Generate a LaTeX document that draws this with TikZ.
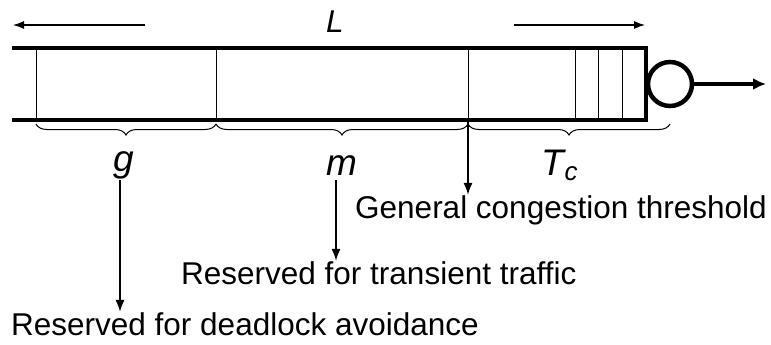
\documentclass[tikz,border=0pt]{standalone}
\usepackage{fontspec}
\setmainfont{Liberation Sans}
\usetikzlibrary{arrows.meta,decorations.pathreplacing,positioning}

\begin{document}
\begin{tikzpicture}[x=1pt, y=-1pt, >={Latex[length=12pt,width=9pt]},
                    wall/.style={line width=4.5pt},
                    slot/.style={line width=0.8pt},
                    txt/.style={font=\fontsize{31.5}{32}\selectfont, inner sep=0pt},
                    sym/.style={font=\fontsize{37}{38}\selectfont\itshape, inner sep=0pt, anchor=base},
                    brc/.style={decorate, decoration={brace, mirror, amplitude=11pt}, line width=1pt},
                    ptr/.style={->, line width=1.8pt}]
\useasboundingbox (0,0) rectangle (771,345);

% buffer
\draw[wall] (12,48) -- (646,48) -- (646,120) -- (12,120);
\foreach \x in {36,216,468,575,598,622}
  \draw[slot] (\x,48) -- (\x,120);

% server and output
\node[circle, draw, line width=4.5pt, minimum size=44pt, inner sep=0pt] (srv) at (670,84) {};
\coordinate (out) at (766,84);
\draw[->, line width=3.5pt, >={Latex[length=13pt,width=12pt]}] (srv.east) -- (out);

% length L
\node[txt, font=\fontsize{31.5}{32}\selectfont\itshape] (lblL) at (335,22) {L};
\coordinate (lft) at (13,25);
\coordinate (lfs) at (145,25);
\coordinate (rgs) at (514,25);
\coordinate (rgt) at (645,25);
\draw[->, line width=1.2pt, >={Latex[length=11pt,width=8pt]}] (lfs) -- (lft);
\draw[->, line width=1.2pt, >={Latex[length=11pt,width=8pt]}] (rgs) -- (rgt);

% braces
\draw[brc] (36,124) -- (216,124);
\draw[brc] (216,124) -- (468,124);
\draw[brc] (468,124) -- (670,124);

\node[sym] (lblg) at (124,171) {g};
\node[sym] (lblm) at (342,175) {m};
\node[sym] (lblt) at (560,175) {T\textsubscript{c}};

% explanations
\node[txt, anchor=base west] (txtgen) at (355,218) {General congestion threshold};
\node[txt, anchor=base west] (txttrn) at (181,284) {Reserved for transient traffic};
\node[txt, anchor=base west] (txtdla) at (11,335) {Reserved for deadlock avoidance};

\coordinate (thr) at (468,120);
\draw[ptr] (thr) -- (thr |- txtgen.north);
\draw[ptr] ([xshift=-6pt,yshift=-5pt]lblm.south) -- ([xshift=-6pt]lblm.south |- txttrn.north);
\draw[ptr] ([xshift=-4pt,yshift=-1pt]lblg.south) -- ([xshift=-4pt]lblg.south |- txtdla.north);
\end{tikzpicture}
\end{document}
